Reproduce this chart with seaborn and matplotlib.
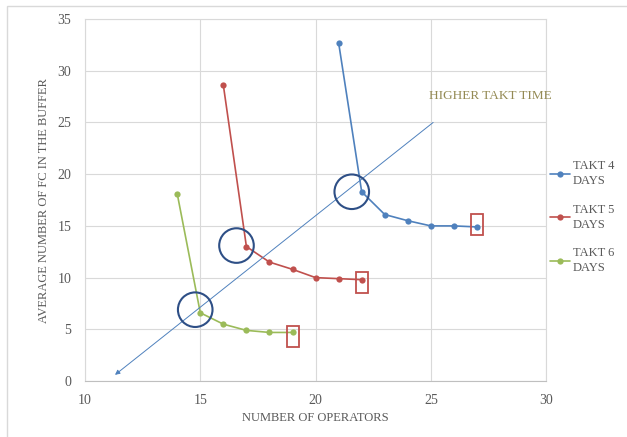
import pandas as pd
import matplotlib.pyplot as plt
import seaborn as sns
from matplotlib.patches import Rectangle

# Data
operators_4 = [21, 22, 23, 24, 25, 26, 27]
buffer_4 = [32.7, 18.3, 16.1, 15.5, 15.0, 15.0, 14.9]
operators_5 = [16, 17, 18, 19, 20, 21, 22]
buffer_5 = [28.6, 13.0, 11.5, 10.8, 10.0, 9.9, 9.8]
operators_6 = [14, 15, 16, 17, 18, 19]
buffer_6 = [18.1, 6.6, 5.5, 4.9, 4.7, 4.7]
series_names = ["TAKT 4\nDAYS", "TAKT 5\nDAYS", "TAKT 6\nDAYS"]
series_colors = ["#4F81BD", "#C0504D", "#9BBB59"]

# arrow for "higher takt time"
arrow_start = (25.1, 25.0)
arrow_end = (11.3, 0.6)
# circled intersections and boxed last points
circle_x = [21.57, 16.57, 14.78]
circle_y = [18.3, 13.1, 6.9]
box_x = [27, 22, 19]
box_y = [15.1, 9.5, 4.3]

df = pd.concat([
    pd.DataFrame({"ops": operators_4, "buf": buffer_4, "series": series_names[0]}),
    pd.DataFrame({"ops": operators_5, "buf": buffer_5, "series": series_names[1]}),
    pd.DataFrame({"ops": operators_6, "buf": buffer_6, "series": series_names[2]}),
])

sns.set_style("white")
plt.rcParams["font.family"] = ["Liberation Serif", "DejaVu Serif"]
grey = "#595959"

fig = plt.figure(figsize=(6.27, 4.37), dpi=100)
ax = fig.add_axes([0.1356, 0.128, 0.7354, 0.8285])

# chart area border
fig.add_artist(Rectangle((7 / 627, -0.05), 1.1, 1 - 6 / 437 + 0.05, transform=fig.transFigure,
                         fill=False, edgecolor="#D9D9D9", linewidth=1.0))

sns.lineplot(data=df, x="ops", y="buf", hue="series", palette=series_colors,
             marker="o", markersize=4.5, markeredgewidth=0, linewidth=1.2,
             sort=False, ax=ax)

ax.annotate("", xy=arrow_end, xytext=arrow_start,
            arrowprops=dict(arrowstyle="-|>", color="#4F81BD", lw=0.7,
                            mutation_scale=7, shrinkA=0, shrinkB=0))
ax.text(24.9, 27.6, "HIGHER TAKT TIME", color="#948A54", fontsize=9.5, va="center")

ax.scatter(circle_x, circle_y, s=620, facecolors="none", edgecolors="#2E4F86",
           linewidths=1.5, zorder=5)
for bx, by in zip(box_x, box_y):
    ax.add_patch(Rectangle((bx - 0.26, by - 1.02), 0.52, 2.04, fill=False,
                           edgecolor="#C0504D", linewidth=1.3, zorder=5))

ax.set_xlim(10, 30)
ax.set_ylim(0, 35)
ax.set_xticks(range(10, 31, 5))
ax.set_yticks(range(0, 36, 5))
ax.grid(True, color="#D9D9D9", linewidth=0.8)
for side in ["top", "right", "left"]:
    ax.spines[side].set_color("#D9D9D9")
    ax.spines[side].set_linewidth(0.8)
ax.spines["bottom"].set_color("#BFBFBF")
ax.tick_params(colors=grey, labelsize=10, length=0)
ax.tick_params(axis="x", pad=9)
ax.tick_params(axis="y", pad=10)
ax.set_xlabel("NUMBER OF OPERATORS", color=grey, fontsize=9, labelpad=4)
ax.set_ylabel("AVERAGE NUMBER OF FC IN THE BUFFER", color=grey, fontsize=9, labelpad=5)

leg = ax.legend(loc="upper left", bbox_to_anchor=(0.87, 0.645), bbox_transform=fig.transFigure,
                frameon=False, fontsize=9, labelcolor=grey, handlelength=1.6,
                handletextpad=0.2, labelspacing=1.3, borderaxespad=0)
for t in leg.get_texts():
    t.set_linespacing(1.35)

plt.savefig("out.png", dpi=100)
